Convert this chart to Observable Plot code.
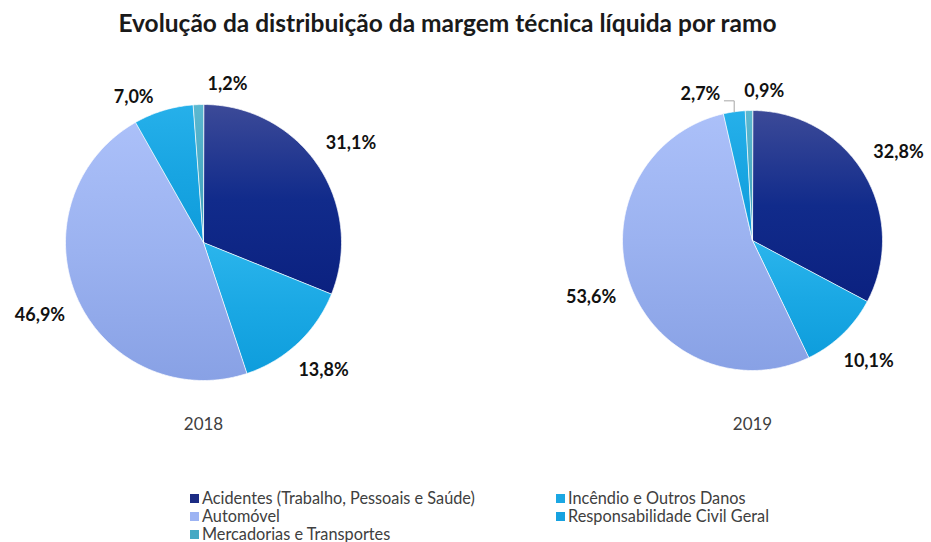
<!DOCTYPE html>
<html>
<head>
<meta charset="utf-8">
<script src="https://cdn.jsdelivr.net/npm/d3@7"></script>
<script src="https://cdn.jsdelivr.net/npm/@observablehq/plot@0.6"></script>
<style>
  body { margin: 0; background: #fff; font-family: Lato, "Open Sans", sans-serif; }
  #root { position: relative; width: 931px; height: 542px; overflow: hidden; background: #fff; }
  #title { position: absolute; top: 8px; left: 0; width: 895px; text-align: center; font-weight: bold; font-size: 24.5px; color: #1a1a1a; white-space: nowrap; }
  .pie { position: absolute; top: 60px; }
  #legend { position: absolute; left: 190px; top: 489px; display: grid; grid-template-columns: 366px auto; font-size: 16.3px; color: #404040; line-height: 18px; }
  #legend .item { display: flex; align-items: center; white-space: nowrap; }
  #legend .sw { width: 9px; height: 9px; margin-right: 3px; flex: none; }
</style>
</head>
<body>
<div id="root">
  <div id="title">Evolução da distribuição da margem técnica líquida por ramo</div>
  <div id="legend"></div>
</div>
<script>
// ---- data ----
const categories = [
  "Acidentes (Trabalho, Pessoais e Saúde)",
  "Incêndio e Outros Danos",
  "Automóvel",
  "Responsabilidade Civil Geral",
  "Mercadorias e Transportes"
];
const years = ["2018", "2019"];
const values2018 = [31.1, 13.8, 46.9, 7.0, 1.2];
const values2019 = [32.8, 10.1, 53.6, 2.7, 0.9];
const colors = ["#1c2c84", "#1ba7e3", "#9cb3f3", "#16a2e0", "#46a9c4"];
// vertical gradient (top, middle, bottom) used to shade each slice
const gradients = [
  ["#3c4a98", "#112b8b", "#0b2180"],
  ["#2bb5ec", "#1aa8e4", "#0e9ddc"],
  ["#abc0f9", "#9bb2f0", "#88a1e5"],
  ["#26b0ea", "#18a5e2", "#0f9cdb"],
  ["#5cb8d0", "#4aabc5", "#3a9fbb"]
];

// ---- layout (per pie panel) ----
const layout = [
  { left: 0,   width: 466, cx: 203, cy: 182, r: 138 },
  { left: 466, width: 465, cx: 286, cy: 180, r: 130 }
];
const labelSize = 18;
const labelFont = `bold ${labelSize}px Lato`;
const fmt = v => v.toFixed(1).replace(".", ",") + "%";

const canvas = document.createElement("canvas");
const ctx = canvas.getContext("2d");
ctx.font = labelFont;

function buildPie(year, values, L) {
  const total = d3.sum(values);
  const slices = [];
  const labels = [];
  let acc = 0;
  values.forEach((v, i) => {
    const a0 = acc / total * 2 * Math.PI;
    acc += v;
    const a1 = acc / total * 2 * Math.PI;
    const pts = [{ key: categories[i], x: 0, y: 0 }];
    const n = Math.max(2, Math.ceil((a1 - a0) / 0.01));
    for (let k = 0; k <= n; k++) {
      const a = a0 + (a1 - a0) * k / n;
      pts.push({ key: categories[i], x: Math.sin(a), y: Math.cos(a) });
    }
    slices.push(...pts);
    const m = (a0 + a1) / 2;
    const ux = Math.sin(m), uy = Math.cos(m);
    const text = fmt(v);
    const w = ctx.measureText(text).width;
    const offFn = (sx, sy) => L.r + 8 + Math.abs(sx) * (w / 2 + 6) + Math.abs(sy) * 11;
    const off = offFn(ux, uy);
    labels.push({ text, w, a0, a1, ux, uy, offFn, px: ux * off, py: uy * off, shifted: false });
  });
  // collision avoidance for neighbouring labels near the top
  for (let i = 0; i < labels.length; i++) {
    for (let j = 0; j < labels.length; j++) {
      if (i === j) continue;
      const A = labels[i], B = labels[j];
      const half = (A.w + B.w) / 2;
      if (A.px < B.px && (B.px - A.px) < half + 20 && Math.abs(A.py - B.py) < 20) {
        // try sliding A along its own slice first
        const off = A.offFn(A.ux, A.uy);
        const target = B.px + 30 - half - 54;
        const th = 2 * Math.PI + Math.asin(Math.max(-1, target / off));
        if (th >= A.a0 && th <= A.a1) {
          B.px += 30;
          const o2 = A.offFn(Math.sin(th), Math.cos(th)) - 6;
          A.px = target;
          A.py = o2 * Math.cos(th);
        } else {
          B.px += 16;
          A.px = B.px - half - 24;
          A.py = B.py - 3;
          A.shifted = true;
        }
      }
    }
  }
  const labelData = labels.map(d => ({ text: d.text, x: d.px / L.r, y: d.py / L.r }));
  const leaders = [];
  labels.forEach((d, i) => {
    if (!d.shifted) return;
    const ly = (d.py - 7) / L.r;
    leaders.push({ id: i, x: d.ux, y: d.uy });
    leaders.push({ id: i, x: d.ux, y: ly });
    leaders.push({ id: i, x: (d.px + d.w / 2 + 4) / L.r, y: ly });
  });

  const gid = i => `grad-${year}-${i}`;
  const chart = Plot.plot({
    width: L.width,
    height: 375,
    marginBottom: 6,
    x: { domain: [-1, 1], range: [L.cx - L.r, L.cx + L.r], axis: null },
    y: { domain: [-1, 1], range: [L.cy + L.r, L.cy - L.r], axis: null },
    color: { domain: categories, range: categories.map((c, i) => `url(#${gid(i)})`) },
    style: { fontFamily: "Lato, sans-serif", background: "transparent", overflow: "visible" },
    marks: [
      Plot.line(slices, { x: "x", y: "y", z: "key", fill: "key", stroke: "#ffffff", strokeWidth: 0.7, curve: "linear-closed" }),
      Plot.line(leaders, { x: "x", y: "y", z: "id", stroke: "#a6a6a6", strokeWidth: 1 }),
      Plot.text(labelData, { x: "x", y: "y", text: "text", fontWeight: "bold", fontSize: labelSize, fill: "#111111" }),
      Plot.text([year], { x: () => 0, frameAnchor: "bottom", lineAnchor: "bottom", text: d => d, fontSize: 17, fill: "#404040" })
    ]
  });
  // gradient definitions referenced by the colour scale
  const svgNS = "http://www.w3.org/2000/svg";
  const defs = document.createElementNS(svgNS, "defs");
  gradients.forEach((stops, i) => {
    const g = document.createElementNS(svgNS, "linearGradient");
    g.setAttribute("id", gid(i));
    g.setAttribute("x1", "0"); g.setAttribute("y1", "0");
    g.setAttribute("x2", "0"); g.setAttribute("y2", "1");
    stops.forEach((c, k) => {
      const s = document.createElementNS(svgNS, "stop");
      s.setAttribute("offset", (k / (stops.length - 1) * 100) + "%");
      s.setAttribute("stop-color", c);
      g.appendChild(s);
    });
    defs.appendChild(g);
  });
  chart.insertBefore(defs, chart.firstChild);

  const wrap = document.createElement("div");
  wrap.className = "pie";
  wrap.style.left = L.left + "px";
  wrap.appendChild(chart);
  document.getElementById("root").appendChild(wrap);
}

buildPie(years[0], values2018, layout[0]);
buildPie(years[1], values2019, layout[1]);

// legend
const legend = document.getElementById("legend");
categories.forEach((c, i) => {
  const item = document.createElement("div");
  item.className = "item";
  const sw = document.createElement("span");
  sw.className = "sw";
  sw.style.background = colors[i];
  item.appendChild(sw);
  item.appendChild(document.createTextNode(c));
  legend.appendChild(item);
});
</script>
</body>
</html>
